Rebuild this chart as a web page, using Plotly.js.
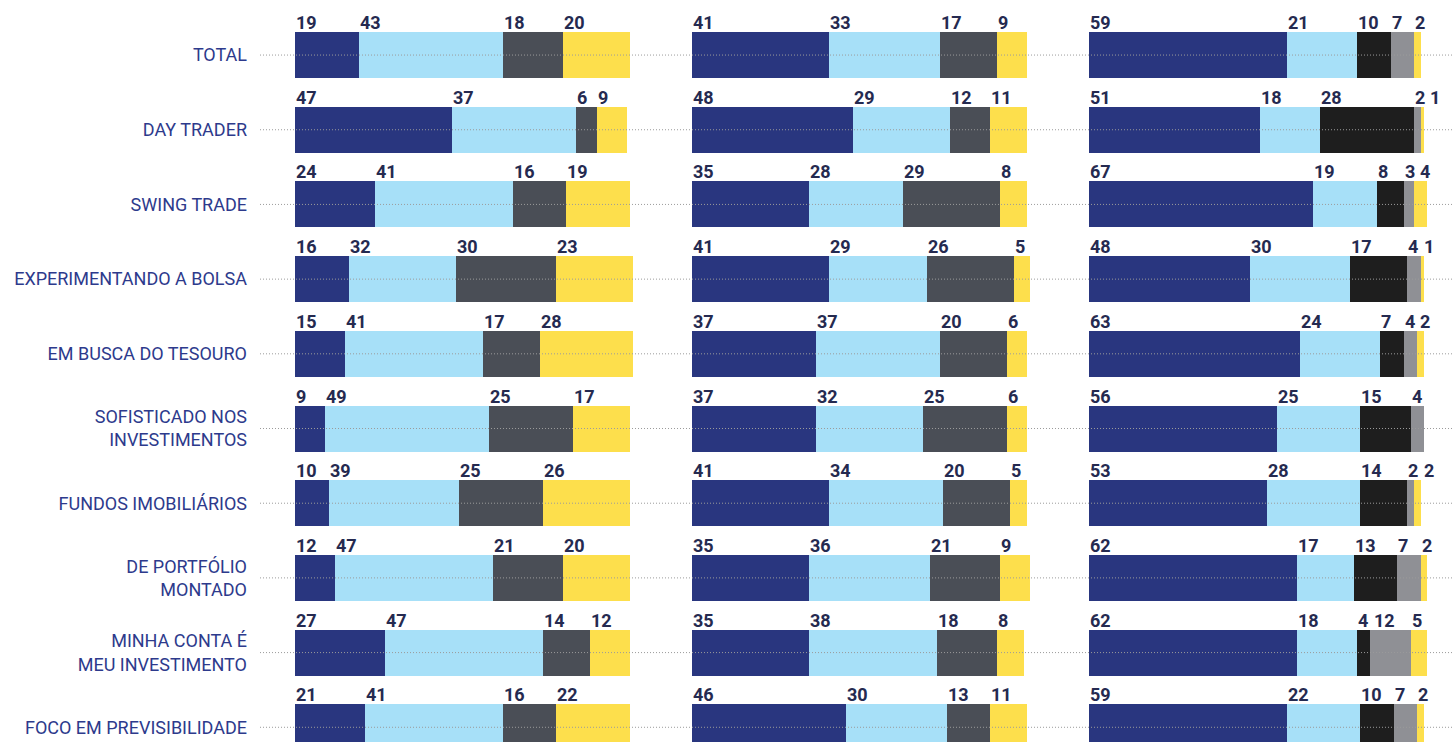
<!DOCTYPE html>
<html>
<head>
<meta charset="utf-8">
<script src="https://cdn.plot.ly/plotly-3.0.1.min.js"></script>
<style>
  html, body { margin: 0; padding: 0; background: #ffffff; }
  #chart { width: 1453px; height: 742px; }
</style>
</head>
<body>
<div id="chart"></div>
<script>
// ---- Data ----
const categories = [
  "TOTAL",
  "DAY TRADER",
  "SWING TRADE",
  "EXPERIMENTANDO A BOLSA",
  "EM BUSCA DO TESOURO",
  "SOFISTICADO NOS<br>INVESTIMENTOS",
  "FUNDOS IMOBILIÁRIOS",
  "DE PORTFÓLIO<br>MONTADO",
  "MINHA CONTA É<br>MEU INVESTIMENTO",
  "FOCO EM PREVISIBILIDADE"
];

// Panel 1 (4 segments)
const p1_s1 = [19, 47, 24, 16, 15, 9, 10, 12, 27, 21];
const p1_s2 = [43, 37, 41, 32, 41, 49, 39, 47, 47, 41];
const p1_s3 = [18, 6, 16, 30, 17, 25, 25, 21, 14, 16];
const p1_s4 = [20, 9, 19, 23, 28, 17, 26, 20, 12, 22];

// Panel 2 (4 segments)
const p2_s1 = [41, 48, 35, 41, 37, 37, 41, 35, 35, 46];
const p2_s2 = [33, 29, 28, 29, 37, 32, 34, 36, 38, 30];
const p2_s3 = [17, 12, 29, 26, 20, 25, 20, 21, 18, 13];
const p2_s4 = [9, 11, 8, 5, 6, 6, 5, 9, 8, 11];

// Panel 3 (5 segments)
const p3_s1 = [59, 51, 67, 48, 63, 56, 53, 62, 62, 59];
const p3_s2 = [21, 18, 19, 30, 24, 25, 28, 17, 18, 22];
const p3_s3 = [10, 28, 8, 17, 7, 15, 14, 13, 4, 10];
const p3_s4 = [7, 2, 3, 4, 4, 4, 2, 7, 12, 7];
const p3_s5 = [2, 1, 4, 1, 2, null, 2, 2, 5, 2];

// ---- Styling ----
const C_NAVY = "#29367f";
const C_LBLUE = "#a7e0f8";
const C_DGRAY = "#4a4e56";
const C_YELLOW = "#fddf4c";
const C_BLACK = "#1e1e1e";
const C_GRAY = "#8f9095";

const panels = [
  { axis: "x",  series: [p1_s1, p1_s2, p1_s3, p1_s4], colors: [C_NAVY, C_LBLUE, C_DGRAY, C_YELLOW] },
  { axis: "x2", series: [p2_s1, p2_s2, p2_s3, p2_s4], colors: [C_NAVY, C_LBLUE, C_DGRAY, C_YELLOW] },
  { axis: "x3", series: [p3_s1, p3_s2, p3_s3, p3_s4, p3_s5], colors: [C_NAVY, C_LBLUE, C_BLACK, C_GRAY, C_YELLOW] }
];

const W = 1453;
const ML = 258;
const plotW = W - ML;
const toPaper = px => (px - ML) / plotW;
const PX_PER_UNIT = 3.35;
const XMAX = 108;
const BAR_W = 0.616;

const traces = [];
const annotations = [];

panels.forEach(p => {
  p.series.forEach((vals, si) => {
    traces.push({
      type: "bar",
      orientation: "h",
      x: vals.map(v => v == null ? 0 : v),
      y: categories,
      xaxis: p.axis,
      yaxis: "y",
      width: BAR_W,
      marker: { color: p.colors[si], line: { width: 0 } },
      hoverinfo: "x+y",
      showlegend: false
    });
  });
  // value labels at segment starts (shifted right if they would overlap)
  categories.forEach((cat, ri) => {
    let start = 0;
    let prevEnd = -Infinity;
    p.series.forEach(vals => {
      const v = vals[ri];
      if (v != null) {
        const txt = String(v);
        const labelW = (txt.length * 10.5 + 5) / PX_PER_UNIT;
        const x = Math.max(start, prevEnd);
        prevEnd = x + labelW;
        annotations.push({
          xref: p.axis, yref: "y",
          x: x, y: ri - BAR_W / 2,
          text: txt,
          showarrow: false,
          xanchor: "left", yanchor: "bottom",
          xshift: -1, yshift: -3,
          font: { family: "Roboto, 'Open Sans', sans-serif", size: 18, color: "#252a50", weight: 700 }
        });
        start += v;
      }
    });
  });
});

const shapes = categories.map((c, i) => ({
  type: "line", xref: "paper", yref: "y",
  x0: toPaper(260), x1: 1, y0: i, y1: i,
  line: { color: "#9b9b9b", width: 1, dash: "1px,2px" },
  layer: "above"
}));

const xBase = { range: [0, XMAX], visible: false, fixedrange: true };
const span = XMAX * PX_PER_UNIT;

const layout = {
  width: W, height: 742,
  margin: { l: ML, r: 0, t: 0, b: 0, pad: 0 },
  paper_bgcolor: "#ffffff",
  plot_bgcolor: "#ffffff",
  barmode: "stack",
  showlegend: false,
  xaxis:  Object.assign({}, xBase, { domain: [toPaper(295), toPaper(295 + span)], anchor: "y" }),
  xaxis2: Object.assign({}, xBase, { domain: [toPaper(692), toPaper(692 + span)], anchor: "y" }),
  xaxis3: Object.assign({}, xBase, { domain: [toPaper(1089), Math.min(1, toPaper(1089 + span))], anchor: "y" }),
  yaxis: {
    type: "category",
    categoryorder: "array",
    categoryarray: categories,
    range: [9.197, -0.737],
    anchor: "free",
    position: 0,
    showgrid: false, zeroline: false, showline: false,
    ticks: "",
    ticklabelstandoff: 11,
    tickfont: { family: "Roboto, 'Open Sans', sans-serif", size: 18, color: "#2d3a8c" },
    fixedrange: true
  },
  shapes: shapes,
  annotations: annotations
};

Plotly.newPlot("chart", traces, layout, { displayModeBar: false, staticPlot: true });
</script>
</body>
</html>
